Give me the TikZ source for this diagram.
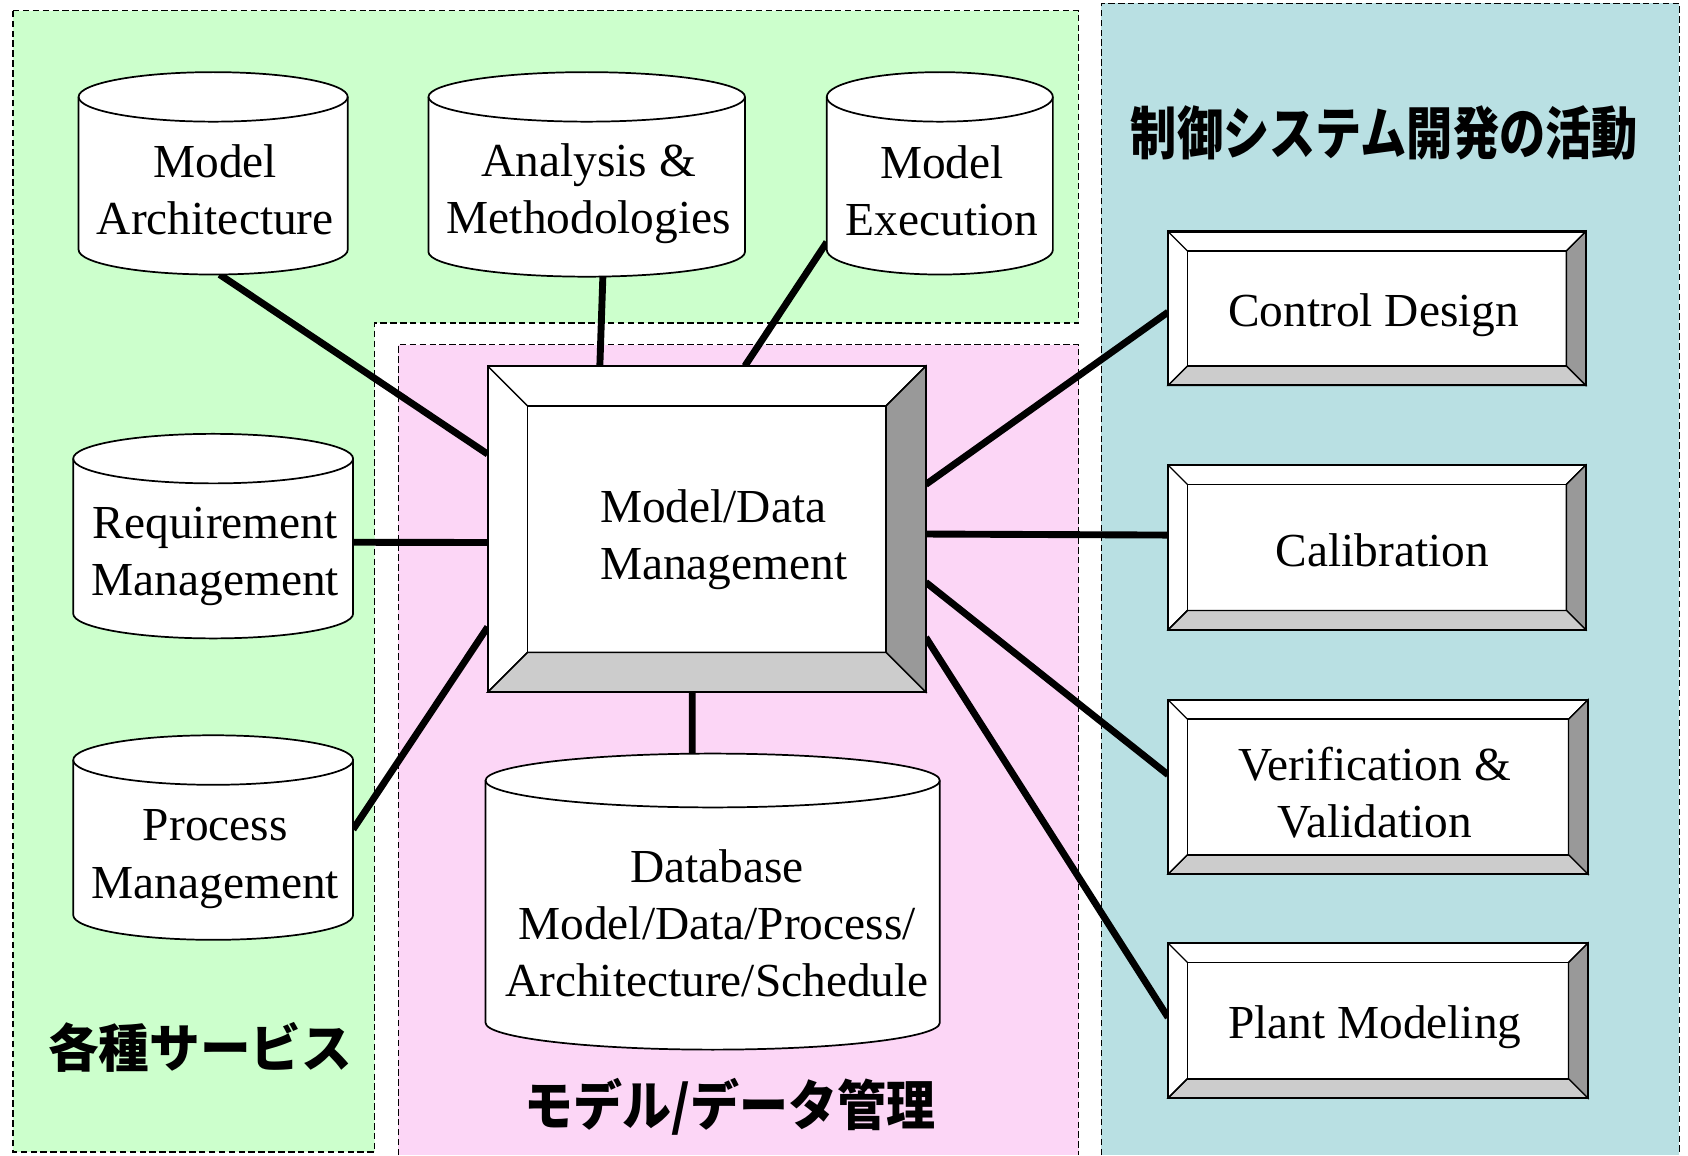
\documentclass[tikz,border=0pt]{standalone}
\usepackage{fontspec}
\setmainfont{Liberation Serif}
\newfontfamily\cjk{Noto Sans CJK JP}
\usetikzlibrary{calc}
\definecolor{grn}{HTML}{CCFFCC}
\definecolor{pnk}{HTML}{FCD6F6}
\definecolor{blu}{HTML}{B9E0E3}
\definecolor{bevdark}{HTML}{999999}
\definecolor{bevlight}{HTML}{CCCCCC}
\pgfdeclarelayer{bg}
\pgfdeclarelayer{conn}
\pgfsetlayers{bg,conn,main}
\tikzset{
  bevline/.style={line width=1pt, black},
  thinl/.style={line width=0.6pt, black},
  cylline/.style={line width=0.8pt, black},
  boxarea/.style={inner sep=0pt, outer sep=0pt, rectangle},
  region/.style={line width=0.6pt, dash pattern=on 3pt off 1.6pt, black},
  conline/.style={line width=3.2pt, black},
  lbl/.style={inner sep=0pt, align=center, font=\fontsize{22pt}{26.5pt}\selectfont},
  jp/.style={inner sep=0pt, font=\cjk\bfseries}
}
\newcommand\bevbox[6]{%
  \filldraw[bevline, fill=white] (#2,-#3) rectangle (#4,-#5);
  \filldraw[thinl, fill=bevdark] (#4,-#3) -- (#4,-#5) -- ({#4-#6},{-(#5-#6)}) -- ({#4-#6},{-(#3+#6)}) -- cycle;
  \filldraw[thinl, fill=bevlight] (#2,-#5) -- (#4,-#5) -- ({#4-#6},{-(#5-#6)}) -- ({#2+#6},{-(#5-#6)}) -- cycle;
  \draw[thinl] (#2,-#3) -- ({#2+#6},{-(#3+#6)});
  \draw[thinl] (#2,-#5) -- ({#2+#6},{-(#5-#6)});
  \draw[thinl] (#4,-#3) -- ({#4-#6},{-(#3+#6)});
  \draw[line width=0.8pt] ({#2+#6},{-(#3+#6)}) rectangle ({#4-#6},{-(#5-#6)});
  \node[boxarea, draw, bevline, minimum width={(#4-#2)*0.5pt}, minimum height={(#5-#3)*0.5pt}] (#1) at ({(#2+#4)/2},{-(#3+#5)/2}) {};
}
\newcommand\cylbox[6]{%
  \filldraw[cylline, fill=white] ({#2-#3},{-(#4+#6)}) -- ({#2-#3},{-(#5-#6)}) arc[start angle=180,end angle=360,x radius=#3,y radius=#6] -- ({#2+#3},{-(#4+#6)}) arc[start angle=0,end angle=180,x radius=#3,y radius=#6] -- cycle;
  \draw[cylline] ({#2-#3},{-(#4+#6)}) arc[start angle=180,end angle=360,x radius=#3,y radius=#6];
  \node[boxarea, minimum width={#3*1pt}, minimum height={(#5-#4)*0.5pt}] (#1) at (#2,{-(#4+#5)/2}) {};
}
\begin{document}
\begin{tikzpicture}[x=0.5pt,y=0.5pt]
\useasboundingbox (0,0) rectangle (1568,-1073);
% regions
\begin{pgfonlayer}{bg}
  \fill[white] (0,0) rectangle (1568,-1073);
  \filldraw[region, fill=grn] (12,-10) -- (1002,-10) -- (1002,-300) -- (348,-300) -- (348,-1070) -- (12,-1070) -- cycle;
  \fill[pnk] (370,-320) rectangle (1002,-1073);
  \draw[region] (370,-1073) -- (370,-320) -- (1002,-320) -- (1002,-1073);
  \fill[blu] (1023,-3) rectangle (1560,-1073);
  \draw[region] (1023,-1073) -- (1023,-3) -- (1560,-3) -- (1560,-1073);
\end{pgfonlayer}
% cylinders
\cylbox{ma}{198}{125}{67}{255}{23}
\cylbox{am}{545}{147}{67}{257}{23}
\cylbox{me}{873}{105}{67}{255}{23}
\cylbox{rm}{198}{130}{403}{593}{23}
\cylbox{pm}{198}{130}{683}{873}{23}
\cylbox{db}{662}{211}{700}{975}{25}
\node[lbl] (mat) at (200,-176) {Model\\Architecture};
\node[lbl] (amt) at (547,-180) {Analysis \&\\Methodologies};
\node[lbl] (met) at (875,-177) {Model\\Execution};
\node[lbl] (rmt) at (200,-517) {Requirement\\Management};
\node[lbl] (pmt) at (200,-798) {Process\\Management};
\node[lbl] (dbt) at (666,-858) {Database\\Model/Data/Process/\\Architecture/Schedule};
% bevel boxes
\bevbox{mdm}{453}{340}{860}{643}{37}
\node[lbl, align=left, anchor=west] (mdmt) at (557,-501) {Model/Data\\Management};
\bevbox{cd}{1085}{215}{1473}{358}{18}
\bevbox{cal}{1085}{432}{1473}{585}{18}
\bevbox{vv}{1085}{650}{1475}{812}{18}
\bevbox{pl}{1085}{876}{1475}{1020}{18}
\node[lbl] (cdt) at (1276,-293) {Control Design};
\node[lbl] (calt) at (1284,-511) {Calibration};
\node[lbl] (vvt) at (1277,-736) {Verification \&\\Validation};
\node[lbl] (plt) at (1277,-954) {Plant Modeling};
% Japanese labels
\node[jp, font=\cjk\bfseries\fontsize{24pt}{28pt}\selectfont] (jp1) at (186,-973) {\scalebox{0.98}[1]{各種サービス}};
\node[jp, font=\cjk\bfseries\fontsize{26.5pt}{30pt}\selectfont] (jp2) at (1286,-124) {\scalebox{0.81}[1]{制御システム開発の活動}};
\node[jp, font=\cjk\bfseries\fontsize{25pt}{29pt}\selectfont] (jp3) at (678,-1028) {\scalebox{0.91}[1]{モデル/データ管理}};
% connectors
\begin{pgfonlayer}{conn}
  \draw[conline] ($(mdm.north west)!0.27!(mdm.south west)$) -- ($(ma.south)+(6,0)$);
  \draw[conline] ($(mdm.north west)!0.256!(mdm.north east)$) -- ($(am.south)+(15,0)$);
  \draw[conline] ($(mdm.north west)!0.587!(mdm.north east)$) -- ($(me.north west)!0.84!(me.south west)$);
  \draw[conline] ($(mdm.north west)!0.541!(mdm.south west)$) -- ($(rm.north east)!0.53!(rm.south east)$);
  \draw[conline] ($(mdm.north west)!0.80!(mdm.south west)$) -- ($(pm.north east)!0.46!(pm.south east)$);
  \draw[conline] ($(mdm.south west)!0.467!(mdm.south east)$) -- ($(db.north)+(-19,0)$);
  \draw[conline] ($(mdm.north east)!0.363!(mdm.south east)$) -- ($(cd.north west)!0.524!(cd.south west)$);
  \draw[conline] ($(mdm.north east)!0.515!(mdm.south east)$) -- ($(cal.north west)!0.425!(cal.south west)$);
  \draw[conline] ($(mdm.north east)!0.663!(mdm.south east)$) -- ($(vv.north west)!0.43!(vv.south west)$);
  \draw[conline] ($(mdm.north east)!0.832!(mdm.south east)$) -- ($(pl.north west)!0.48!(pl.south west)$);
\end{pgfonlayer}
\end{tikzpicture}
\end{document}
